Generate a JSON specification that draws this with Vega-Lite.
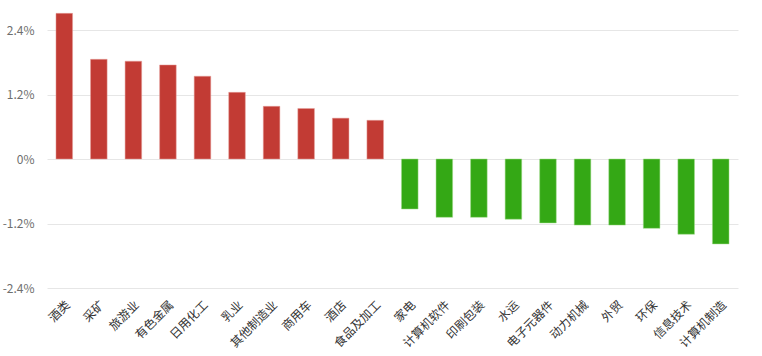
{
  "$schema": "https://vega.github.io/schema/vega-lite/v6.json",
  "autosize": "none",
  "width": 691,
  "height": 287,
  "padding": {"left": 47, "top": 1, "right": 24, "bottom": 68},
  "background": "#ffffff",
  "data": {"values": [
    {"name": "酒类", "v": 2.71},
    {"name": "采矿", "v": 1.855},
    {"name": "旅游业", "v": 1.82},
    {"name": "有色金属", "v": 1.75},
    {"name": "日用化工", "v": 1.54},
    {"name": "乳业", "v": 1.24},
    {"name": "其他制造业", "v": 0.98},
    {"name": "商用车", "v": 0.94},
    {"name": "酒店", "v": 0.76},
    {"name": "食品及加工", "v": 0.72},
    {"name": "家电", "v": -0.93},
    {"name": "计算机软件", "v": -1.085},
    {"name": "印刷包装", "v": -1.085},
    {"name": "水运", "v": -1.12},
    {"name": "电子元器件", "v": -1.19},
    {"name": "动力机械", "v": -1.23},
    {"name": "外贸", "v": -1.23},
    {"name": "环保", "v": -1.29},
    {"name": "信息技术", "v": -1.40},
    {"name": "计算机制造", "v": -1.58}
  ]},
  "config": {
    "view": {"stroke": null},
    "font": "Noto Sans CJK SC"
  },
  "mark": {"type": "bar", "strokeWidth": 1, "strokeOpacity": 0.5},
  "encoding": {
    "x": {
      "field": "name", "type": "nominal", "sort": null,
      "scale": {"paddingInner": 0.52, "paddingOuter": 0.26},
      "axis": {
        "title": null, "labelAngle": -45, "domain": false, "ticks": false,
        "labelPadding": 11, "labelFontSize": 12, "labelColor": "#333333",
        "labelFont": "Noto Sans CJK SC"
      }
    },
    "y": {
      "field": "v", "type": "quantitative",
      "scale": {"domain": [-2.4, 2.94], "nice": false, "zero": true},
      "axis": {
        "title": null, "values": [-2.4, -1.2, 0, 1.2, 2.4],
        "labelExpr": "datum.value + '%'",
        "domain": false, "ticks": false, "labelPadding": 13,
        "labelFontSize": 12, "labelColor": "#6e6e6e",
        "gridColor": "#e6e6e6", "gridWidth": 1,
        "labelFont": "Noto Sans CJK SC"
      }
    },
    "color": {
      "condition": {"test": "datum.v >= 0", "value": "#c23b34"},
      "value": "#34a815"
    },
    "stroke": {
      "condition": {"test": "datum.v >= 0", "value": "#e8a09b"},
      "value": "#9fdc8a"
    }
  }
}
